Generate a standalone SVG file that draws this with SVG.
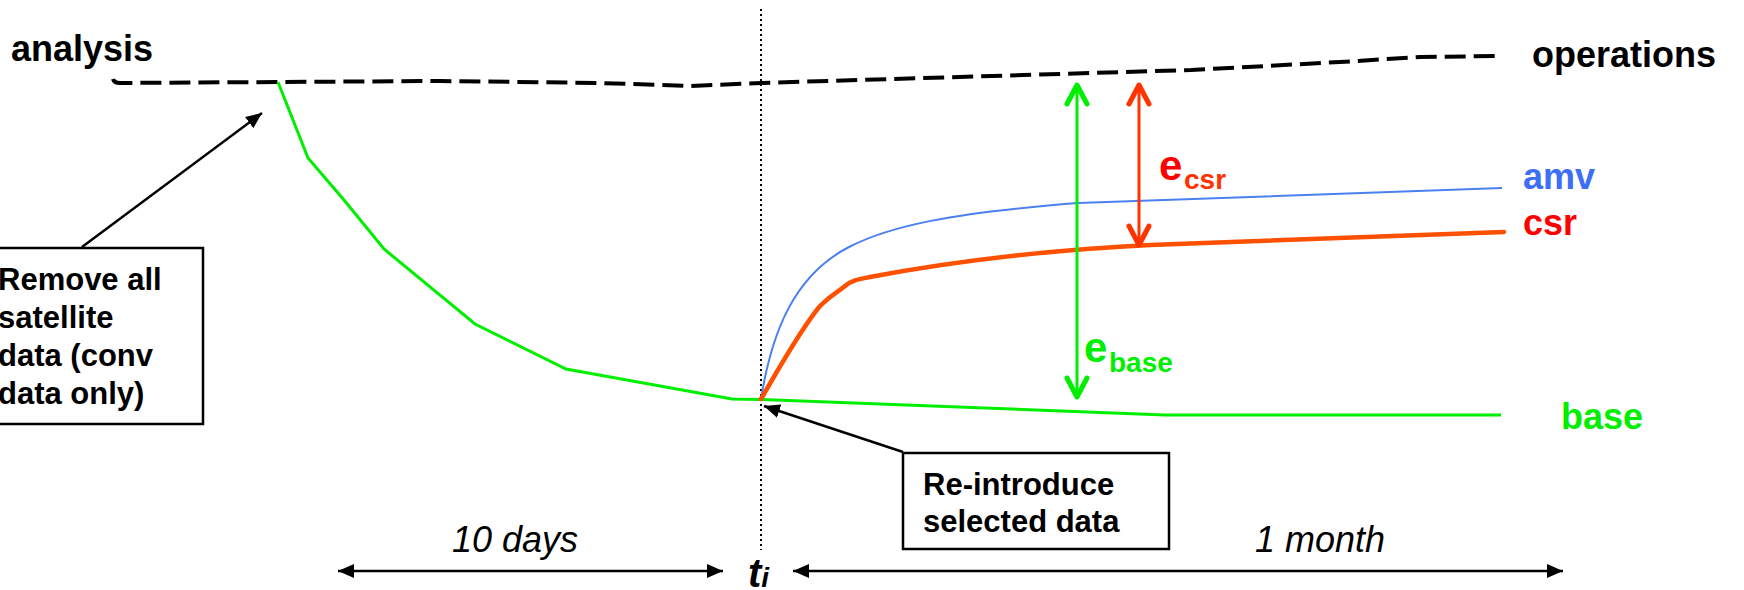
<svg xmlns="http://www.w3.org/2000/svg" width="1744" height="590" viewBox="0 0 1744 590">
<style>
text{font-family:"Liberation Sans",Arial,sans-serif;}
.lbl{font-weight:bold;font-size:36px;}
.box{fill:#fff;stroke:#000;stroke-width:2.5;}
.boxt{font-weight:bold;font-size:31px;fill:#000;}
.ital{font-style:italic;font-size:36px;fill:#000;}
.conn{fill:none;stroke:#000;stroke-width:2.5;}
.chev{fill:none;stroke-width:5;stroke-linecap:round;stroke-linejoin:round;}
</style>
<defs>
<marker id="ah" viewBox="0 0 16 14" refX="16" refY="7" markerWidth="16" markerHeight="14" markerUnits="userSpaceOnUse" orient="auto-start-reverse">
<path d="M0,0 L16,7 L0,14 Z" fill="#000"/>
</marker>
</defs>
<rect width="1744" height="590" fill="#fff"/>

<g id="curves">
<path id="operations-line" d="M113,79 Q114,83 120,83 L278,82 L440,81 L600,83 L690,86 L761,83 L1191,70 L1340,62 L1420,57 L1498,56" fill="none" stroke="#000" stroke-width="4" stroke-dasharray="21 8"/>
<line id="ti-line" x1="761" y1="9" x2="761" y2="550" stroke="#000" stroke-width="2" stroke-dasharray="2 3"/>
<polyline id="base-line" points="278,82 308,158 344,200 384,249 475,324 566,369 732,399 761,399.5 1165,415 1501,415" fill="none" stroke="#00ee00" stroke-width="3"/>
<path id="amv-line" d="M761,399 C772,330 795,275 849,247 C890,226 950,213 1078,203 L1502,188" fill="none" stroke="#4a80f0" stroke-width="2"/>
<path id="csr-line" d="M761,399 C778,370 800,330 820,306 C832,294 838,292 845,286 C852,280 860,279 870,277 C960,260 1050,250 1150,245 L1504,232" fill="none" stroke="#ff5000" stroke-width="4.5" stroke-linecap="round"/>
</g>

<g id="labels">
<text class="lbl" x="11" y="61" fill="#000">analysis</text>
<text class="lbl" x="1532" y="67" fill="#000">operations</text>
<text class="lbl" x="1523" y="189" fill="#3d6ef5">amv</text>
<text class="lbl" x="1523" y="235" fill="#ff0000">csr</text>
<text class="lbl" x="1561" y="429" fill="#00ee00">base</text>
</g>

<g id="e-base">
<line x1="1077" y1="86" x2="1077" y2="396" stroke="#00ee00" stroke-width="3"/>
<path class="chev" d="M1067,104 L1077,85 L1087,104" stroke="#00ee00"/>
<path class="chev" d="M1067,378 L1077,397 L1087,378" stroke="#00ee00"/>
<text x="1084" y="362" font-weight="bold" font-size="42" fill="#00ee00">e</text>
<text x="1109" y="372" font-weight="bold" font-size="28" fill="#00ee00">base</text>
</g>

<g id="e-csr">
<line x1="1139" y1="86" x2="1139" y2="243" stroke="#ff3300" stroke-width="3"/>
<path class="chev" d="M1129,104 L1139,85 L1149,104" stroke="#ff3300"/>
<path class="chev" d="M1129,226 L1139,245 L1149,226" stroke="#ff3300"/>
<text x="1159" y="180" font-weight="bold" font-size="42" fill="#ff0000">e</text>
<text x="1184" y="189" font-weight="bold" font-size="28" fill="#ff3300">csr</text>
</g>

<g id="box-remove">
<rect class="box" x="-10" y="248" width="213" height="176"/>
<text class="boxt" x="-2" y="290">Remove all</text>
<text class="boxt" x="-2" y="328">satellite</text>
<text class="boxt" x="-2" y="366">data (conv</text>
<text class="boxt" x="-2" y="404">data only)</text>
</g>

<g id="box-reintroduce">
<rect class="box" x="903" y="453" width="266" height="96"/>
<text class="boxt" x="923" y="495">Re-introduce</text>
<text class="boxt" x="923" y="532">selected data</text>
</g>

<g id="time-axis">
<text class="ital" x="452" y="552">10 days</text>
<text class="ital" x="1255" y="552">1 month</text>
<text x="748" y="587" font-weight="bold" font-style="italic" font-size="40" fill="#000">t<tspan font-size="28">i</tspan></text>
</g>

<g id="connectors">
<line class="conn" x1="82" y1="247" x2="262" y2="113" marker-end="url(#ah)"/>
<line class="conn" x1="903" y1="452" x2="764" y2="406" marker-end="url(#ah)"/>
<line class="conn" x1="338" y1="571" x2="723" y2="571" marker-start="url(#ah)" marker-end="url(#ah)"/>
<line class="conn" x1="793" y1="571" x2="1563" y2="571" marker-start="url(#ah)" marker-end="url(#ah)"/>
</g>
</svg>
